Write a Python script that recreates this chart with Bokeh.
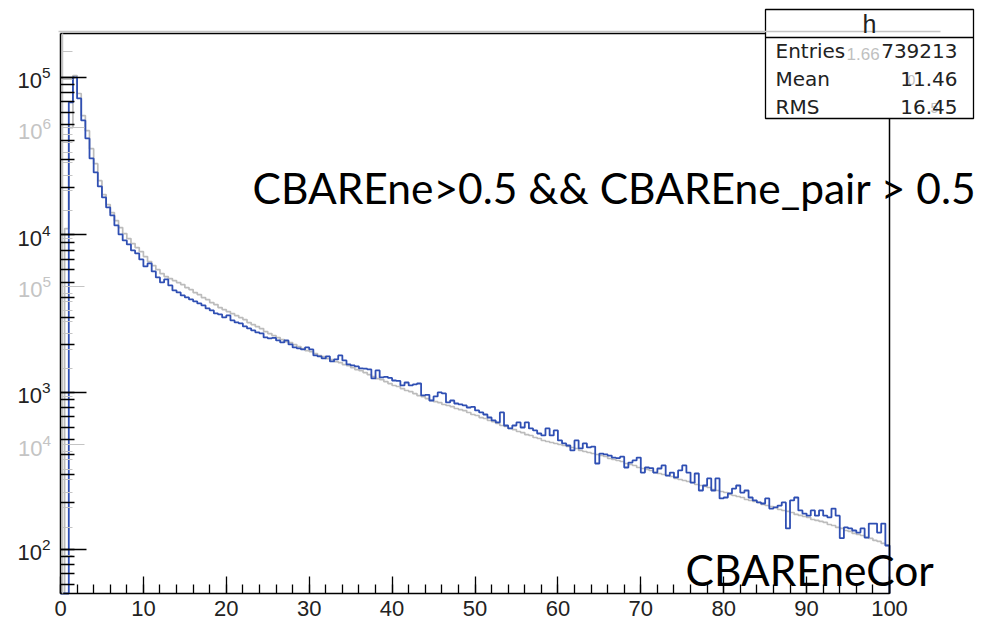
import numpy as np
from bokeh.plotting import figure
from bokeh.models import (Range1d, LogScale, LogAxis, LinearAxis, LogTicker,
                          SingleIntervalTicker, BoxAnnotation, Label)
from bokeh.embed import file_html
from bokeh.resources import INLINE

# ---------------- data ----------------
X_MIN, X_MAX, N_BINS = 0.0, 100.0, 200

blue_counts = [
    0, 0, 69450, 100140, 73630, 53370, 41010, 30600, 24930, 20310,
    17290, 14930, 13280, 11470, 10060, 9212, 8688, 7957, 7615, 6975,
    6297, 6579, 5851, 5360, 4981, 5205, 4767, 4431, 4303, 4118,
    3999, 3884, 3772, 3663, 3557, 3405, 3306, 3164, 3118, 2984,
    3073, 2857, 2774, 2734, 2616, 2541, 2468, 2396, 2362, 2227,
    2195, 2210, 2131, 2070, 2131, 2010, 1923, 1896, 1868, 1923,
    1868, 1711, 1686, 1638, 1686, 1567, 1614, 1711, 1590, 1500,
    1478, 1457, 1415, 1409, 1394, 1222, 1374, 1240, 1251, 1232,
    1186, 1178, 1103, 1152, 1103, 1119, 1135, 953, 962, 885,
    939, 996, 981, 860, 885, 847, 835, 823, 799, 806,
    765, 743, 721, 690, 661, 642, 743, 614, 588, 614,
    642, 596, 642, 588, 571, 546, 531, 588, 531, 571,
    493, 472, 458, 426, 493, 439, 472, 445, 451, 352,
    407, 402, 395, 384, 381, 389, 332, 357, 368, 384,
    308, 332, 329, 308, 327, 342, 295, 308, 287, 318,
    342, 308, 266, 304, 237, 255, 283, 237, 283, 211,
    214, 227, 244, 255, 230, 237, 214, 205, 199, 196,
    211, 182, 185, 190, 199, 136, 205, 214, 177, 169,
    164, 177, 164, 177, 164, 160, 182, 164, 118, 138,
    136, 132, 128, 136, 119, 146, 146, 128, 146, 106,
]

grey_counts = [
    0, 230300, 1000000, 2130000, 1640000, 1190000, 955600, 735800, 591700, 462300,
    377300, 326300, 290500, 258600, 233600, 214100, 199100, 185200, 174800, 164900,
    153300, 142600, 134500, 127000, 119800, 114700, 111400, 108200, 105100, 102100,
    97760, 94960, 90910, 88310, 84550, 82130, 78630, 76380, 73120, 71020,
    68990, 67010, 65100, 63240, 61430, 58810, 57120, 55490, 53900, 51600,
    50120, 48690, 47300, 45940, 44630, 43990, 42730, 41500, 40310, 39160,
    38590, 37490, 36420, 35890, 34870, 34360, 33380, 32900, 31960, 31500,
    30590, 29720, 29290, 28450, 27640, 26850, 26080, 25700, 24960, 24250,
    23560, 23220, 22550, 21910, 21590, 20970, 20370, 20080, 19500, 18950,
    18670, 18400, 17880, 17620, 17360, 16870, 16620, 16380, 15920, 15460,
    15240, 14800, 14590, 14170, 13960, 13570, 13180, 12990, 12620, 12430,
    12080, 11900, 11560, 11400, 11070, 10910, 10600, 10450, 10300, 10150,
    10000, 9856, 9714, 9574, 9436, 9166, 9034, 8904, 8776, 8649,
    8524, 8401, 8161, 8044, 7927, 7813, 7590, 7480, 7372, 7161,
    7058, 6956, 6856, 6660, 6564, 6469, 6376, 6284, 6104, 6016,
    5929, 5844, 5760, 5595, 5514, 5435, 5356, 5203, 5128, 5054,
    4981, 4838, 4768, 4699, 4632, 4499, 4434, 4370, 4307, 4184,
    4124, 4064, 4006, 3891, 3835, 3780, 3725, 3619, 3567, 3515,
    3464, 3365, 3317, 3269, 3222, 3129, 3084, 2996, 2953, 2868,
    2827, 2746, 2706, 2667, 2591, 2554, 2481, 2445, 2375, 2307,
]

BLUE_Y_MIN, BLUE_Y_MAX = 52.5, 1.904e5
GREY_Y_MIN, GREY_Y_MAX = 1148.0, 3.92e6
x_tick_interval = 10

stats_title = "h"
stats_names = ["Entries", "Mean", "RMS"]
stats_values = ["739213", "11.46", "16.45"]
grey_stats_fragments = ["1.66", "0", "5"]
cut_text = "CBAREne>0.5 && CBAREne_pair > 0.5"
var_text = "CBAREneCor"

# ---------------- layout (pixels) ----------------
W, H = 987, 622
FR_L, FR_R, FR_T, FR_B = 60.0, 889.0, 33.0, 593.0   # frame box in page pixels
GREY_AXIS_X = 0.3                                    # grey frame is slightly shifted


def extend_lin(lo, hi):
    per_px = (hi - lo) / (FR_R - FR_L)
    return lo - FR_L * per_px, hi + (W - FR_R) * per_px


def extend_log(lo, hi):
    llo, lhi = np.log10(lo), np.log10(hi)
    per_px = (lhi - llo) / (FR_B - FR_T)
    return 10 ** (llo - (H - FR_B) * per_px), 10 ** (lhi + FR_T * per_px)


xr = Range1d(*extend_lin(X_MIN, X_MAX))
yr = Range1d(*extend_log(BLUE_Y_MIN, BLUE_Y_MAX))
gr = Range1d(*extend_log(GREY_Y_MIN, GREY_Y_MAX))

p = figure(width=W, height=H, x_range=xr, y_range=yr, y_axis_type="log",
           x_axis_location=None, y_axis_location=None,
           output_backend="svg", toolbar_location=None,
           min_border=0, min_border_left=0, min_border_right=0,
           min_border_top=0, min_border_bottom=0)
p.background_fill_color = "white"
p.border_fill_color = "white"
p.outline_line_color = None
p.xgrid.visible = False
p.ygrid.visible = False

p.extra_y_ranges = {"grey": gr}
p.extra_y_scales = {"grey": LogScale()}

edges = np.linspace(X_MIN, X_MAX, N_BINS + 1)


def step_path(counts, floor):
    c = np.asarray(counts, dtype=float)
    c = np.where(c > floor, c, floor)
    xs = np.repeat(edges, 2)
    ys = np.concatenate([[floor], np.repeat(c, 2), [floor]])
    return xs, ys


gx, gy = step_path(grey_counts, GREY_Y_MIN)
bx, by = step_path(blue_counts, BLUE_Y_MIN)
p.line(gx, gy, y_range_name="grey", line_color="#bcbcbc", line_width=1.7)
p.line(bx, by, line_color="#2f4fb3", line_width=1.8)

# frame (top and right edges)
p.line([X_MIN, X_MAX, X_MAX], [BLUE_Y_MAX, BLUE_Y_MAX, BLUE_Y_MIN],
       line_color="black", line_width=1.5)

TICK_FONT = "Liberation Sans"

# x axis
xa = LinearAxis(fixed_location=BLUE_Y_MIN, bounds=(X_MIN, X_MAX),
                ticker=SingleIntervalTicker(interval=x_tick_interval, num_minor_ticks=5))
xa.axis_line_color = "black"
xa.axis_line_width = 1.5
xa.major_tick_in = 17
xa.major_tick_out = 0
xa.minor_tick_in = 9
xa.minor_tick_out = 0
xa.major_tick_line_color = "black"
xa.minor_tick_line_color = "black"
xa.major_tick_line_width = 1.3
xa.minor_tick_line_width = 1.3
xa.major_label_standoff = 7
xa.major_label_text_font = TICK_FONT
xa.major_label_text_font_size = "22px"
xa.major_label_text_color = "#222222"
p.add_layout(xa, "below")

# black y axis (blue histogram)
ya = LogAxis(fixed_location=X_MIN, bounds=(BLUE_Y_MIN, BLUE_Y_MAX),
             ticker=LogTicker(num_minor_ticks=10))
ya.axis_line_color = "black"
ya.axis_line_width = 1.5
ya.major_tick_in = 26
ya.major_tick_out = 0
ya.minor_tick_in = 14
ya.minor_tick_out = 0
ya.major_tick_line_color = "black"
ya.minor_tick_line_color = "black"
ya.major_tick_line_width = 1.3
ya.minor_tick_line_width = 1.3
ya.major_label_standoff = 10
ya.major_label_text_font = TICK_FONT
ya.major_label_text_font_size = "22px"
ya.major_label_text_color = "#222222"

# grey y axis (overlaid histogram)
ga = LogAxis(y_range_name="grey", fixed_location=GREY_AXIS_X,
             bounds=(GREY_Y_MIN, GREY_Y_MAX), ticker=LogTicker(num_minor_ticks=10))
ga.axis_line_color = "#c4c4c4"
ga.axis_line_width = 1.5
ga.major_tick_in = 22
ga.major_tick_out = 0
ga.minor_tick_in = 10
ga.minor_tick_out = 0
ga.major_tick_line_color = "#c4c4c4"
ga.minor_tick_line_color = "#c4c4c4"
ga.major_label_standoff = 12
ga.major_label_text_font = TICK_FONT
ga.major_label_text_font_size = "22px"
ga.major_label_text_color = "#c4c4c4"
p.add_layout(ga, "left")
p.add_layout(ya, "left")


# --------------- annotations (screen units: x from left, y from bottom) ---------------
def sy(py):
    return H - py


LABEL_SHIFT = 16   # labels render this much lower than the requested baseline


def ly(py):
    return sy(py - LABEL_SHIFT)


def hline_box(x0, x1, py, color, width):
    return BoxAnnotation(left=x0, right=x1, top=sy(py), bottom=sy(py),
                         left_units="screen", right_units="screen",
                         top_units="screen", bottom_units="screen",
                         fill_alpha=0, line_color=color, line_alpha=1.0,
                         line_width=width, level="annotation")


p.add_layout(BoxAnnotation(left=765, right=973, top=sy(9), bottom=sy(118),
                           left_units="screen", right_units="screen",
                           top_units="screen", bottom_units="screen",
                           fill_color="white", fill_alpha=1.0,
                           line_color="black", line_alpha=1.0, line_width=1.3,
                           level="annotation"))
p.add_layout(hline_box(765, 973, 37, "black", 1.3))
p.add_layout(hline_box(58, 940, 31, "#c4c4c4", 1.3))

STAT_FONT = "DejaVu Sans"
p.add_layout(Label(x=869, y=sy(23), x_units="screen", y_units="screen",
                   text=stats_title, text_font=TICK_FONT, text_font_size="25px",
                   text_align="center", text_baseline="middle", text_color="#222222"))
grey_pos = [(846, 53, "17px"), (907, 79, "14px"), (930, 107, "14px")]
for frag, (gx0, gy0, fs) in zip(grey_stats_fragments, grey_pos):
    p.add_layout(Label(x=gx0, y=sy(gy0), x_units="screen", y_units="screen",
                       text=frag, text_font=TICK_FONT, text_font_size=fs,
                       text_align="left", text_baseline="middle", text_color="#c0c0c0"))
row_y = [50, 78, 106]
for name, val, yy in zip(stats_names, stats_values, row_y):
    p.add_layout(Label(x=775, y=sy(yy), x_units="screen", y_units="screen",
                       text=name, text_font=STAT_FONT, text_font_size="20px",
                       text_align="left", text_baseline="middle", text_color="#222222"))
    p.add_layout(Label(x=957, y=sy(yy), x_units="screen", y_units="screen",
                       text=val, text_font=STAT_FONT, text_font_size="20px",
                       text_align="right", text_baseline="middle", text_color="#222222"))

BIG_FONT = "Lato"
p.add_layout(Label(x=252, y=ly(203), x_units="screen", y_units="screen",
                   text=cut_text, text_font=BIG_FONT, text_font_size="42.5px",
                   text_align="left", text_baseline="alphabetic", text_color="black"))
p.add_layout(Label(x=685, y=ly(585), x_units="screen", y_units="screen",
                   text=var_text, text_font=BIG_FONT, text_font_size="42.5px",
                   text_align="left", text_baseline="alphabetic", text_color="black"))

open("out.html", "w").write(file_html(p, INLINE))
